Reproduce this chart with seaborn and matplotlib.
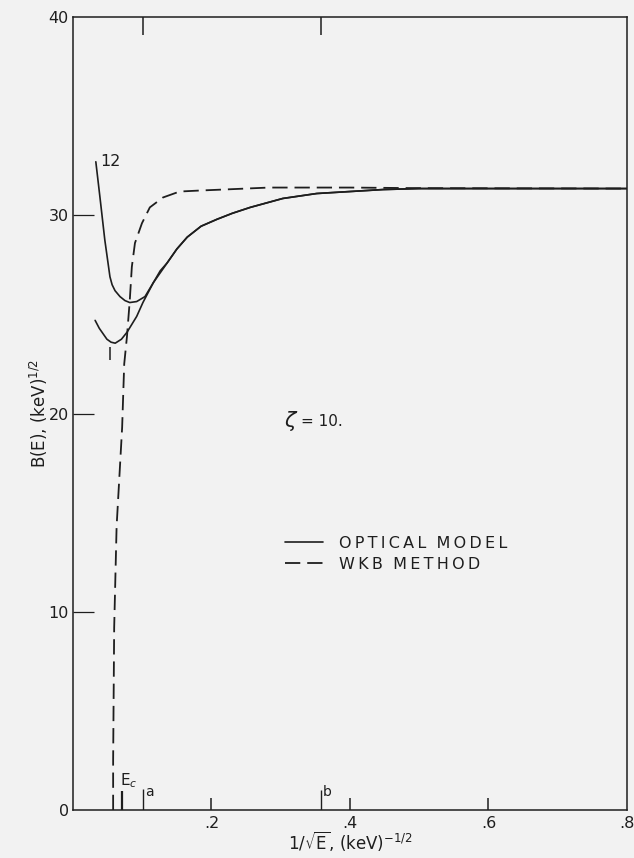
import numpy as np
import pandas as pd
import seaborn as sns
import matplotlib.pyplot as plt

# optical model, curve "12" (upper branch near the minimum)
opt12_x = [0.033, 0.039, 0.046, 0.0534, 0.0565, 0.0607, 0.0679, 0.075, 0.082, 0.092, 0.104, 0.116, 0.126]
opt12_y = [32.7, 30.9, 28.75, 26.9, 26.5, 26.2, 25.9, 25.7, 25.6, 25.65, 25.9, 26.6, 27.2]
# optical model, lower branch
opt1_x = [0.032, 0.038, 0.043, 0.049, 0.055, 0.061, 0.070, 0.078, 0.092, 0.101, 0.116]
opt1_y = [24.7, 24.3, 24.05, 23.75, 23.6, 23.55, 23.75, 24.1, 24.9, 25.6, 26.6]
# common part of both optical model curves
common_x = [0.136, 0.150, 0.165, 0.185, 0.208, 0.230, 0.256, 0.303, 0.352, 0.400, 0.448, 0.500, 0.600, 0.800]
common_y = [27.6, 28.3, 28.9, 29.45, 29.8, 30.1, 30.4, 30.85, 31.1, 31.2, 31.3, 31.35, 31.35, 31.35]
# WKB method
wkb_x = [0.058, 0.058, 0.0595, 0.063, 0.071, 0.074, 0.078, 0.082, 0.085, 0.0895, 0.0996,
         0.111, 0.130, 0.154, 0.183, 0.217, 0.283, 0.400, 0.500, 0.800]
wkb_y = [0.0, 2.5, 9.2, 14.3, 19.3, 22.5, 23.9, 25.7, 27.4, 28.6, 29.6,
         30.4, 30.9, 31.2, 31.25, 31.3, 31.4, 31.4, 31.37, 31.35]

# marks on the energy axis
mark_x = [0.071, 0.101, 0.358]
mark_h = [0.95, 1.05, 1.0]
mark_lbl = ["E$_c$", "a", "b"]

xticks = [0.2, 0.4, 0.6, 0.8]
xtick_lbl = [".2", ".4", ".6", ".8"]
yticks = [0, 10, 20, 30, 40]

legend_lbl = ["OPTICAL MODEL", "WKB METHOD"]


def spaced(s):
    # wide hand-lettered look: thin space between letters
    return "  ".join("\u2009".join(w) for w in s.split())


ink = "#1e1e1e"
sns.set_theme(style="ticks", rc={
    "figure.facecolor": "#f2f2f2", "axes.facecolor": "#f2f2f2",
    "axes.edgecolor": ink, "axes.linewidth": 1.1,
    "text.color": ink, "axes.labelcolor": ink,
    "xtick.color": ink, "ytick.color": ink,
    "lines.scale_dashes": False, "mathtext.fontset": "dejavusans",
})
plt.rcParams["font.family"] = ["DejaVu Sans"]

fig = plt.figure(figsize=(6.34, 8.58), dpi=100)
ax = fig.add_axes([0.1151, 0.0559, 0.8738, 0.9242])

up = pd.DataFrame({"x": opt12_x + common_x, "y": opt12_y + common_y})
lo = pd.DataFrame({"x": opt1_x + common_x, "y": opt1_y + common_y})
wkb = pd.DataFrame({"x": wkb_x, "y": wkb_y})

sns.lineplot(data=up, x="x", y="y", ax=ax, color=ink, lw=1.2, sort=False,
             estimator=None, label=spaced(legend_lbl[0]))
sns.lineplot(data=lo, x="x", y="y", ax=ax, color=ink, lw=1.2, sort=False,
             estimator=None)
sns.lineplot(data=wkb, x="x", y="y", ax=ax, color=ink, lw=1.3, sort=False,
             estimator=None, label=spaced(legend_lbl[1]))
ax.lines[-1].set_dashes((11, 5))

# small stroke below the lower minimum
ax.vlines([0.054], [22.7], [23.35], color=ink, lw=1.1)

# energy marks
ax.vlines(mark_x, 0, mark_h, color=ink, lw=[1.6, 1.0, 1.0])
ax.text(0.068, 1.0, mark_lbl[0], fontsize=11, va="bottom", ha="left")
ax.text(0.104, 0.55, mark_lbl[1], fontsize=10, va="bottom", ha="left")
ax.text(0.361, 0.55, mark_lbl[2], fontsize=10, va="bottom", ha="left")

ax.text(0.040, 32.7, "12", fontsize=11.5, va="center", ha="left")
ax.text(0.305, 19.6, r"$\zeta$", fontsize=15, va="center", ha="left")
ax.text(0.330, 19.6, "= 10.", fontsize=11, va="center", ha="left")

ax.set_xlim(0, 0.8)
ax.set_ylim(0, 40)
ax.set_xticks(xticks)
ax.set_xticklabels(xtick_lbl)
ax.set_yticks(yticks)
ax.tick_params(axis="x", direction="in", length=9, width=1.1, labelsize=11.5, pad=4)
ax.tick_params(axis="y", direction="in", length=15, width=0.9, labelsize=11.5, pad=3)
# no tick marks at the corners of the frame
for t in [ax.yaxis.get_major_ticks()[0], ax.yaxis.get_major_ticks()[-1],
          ax.xaxis.get_major_ticks()[-1]]:
    t.tick1line.set_visible(False)

top = ax.secondary_xaxis("top")
top.set_xticks([mark_x[1], mark_x[2]])
top.set_xticklabels([])
top.tick_params(direction="in", length=13, width=1.1)
top.spines["top"].set_visible(False)

ax.set_xlabel(r"$1/\sqrt{\mathrm{E}}$, (keV)$^{-1/2}$", fontsize=12, labelpad=-1)
ax.set_ylabel(r"B(E), (keV)$^{1/2}$", fontsize=12, labelpad=-1)

ax.legend(loc="upper left", bbox_to_anchor=(285 / 634, 1 - 536 / 858),
          bbox_transform=fig.transFigure, frameon=False, borderpad=0,
          borderaxespad=0, handlelength=2.4, handletextpad=1.0,
          labelspacing=0.35, fontsize=11.5)

fig.savefig("out.png", dpi=100)
